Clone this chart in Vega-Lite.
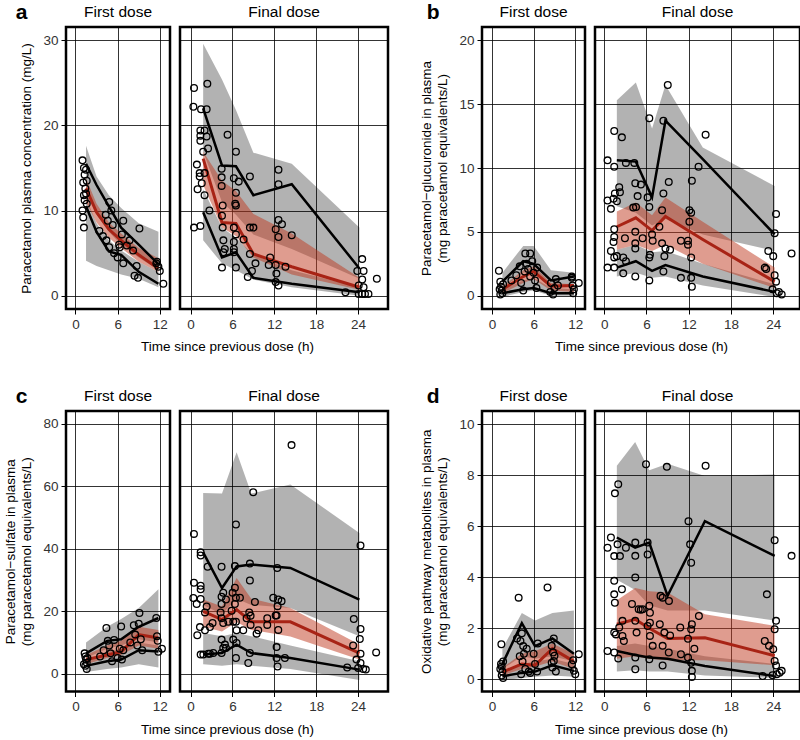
{
"$schema":"https://vega.github.io/schema/vega-lite/v6.json",
"padding":{"left":2,"top":2,"right":0,"bottom":0},
"config":{
 "font":"Liberation Sans",
 "view":{"stroke":"#000","strokeWidth":2.5},
 "axis":{"grid":true,"gridColor":"#000","gridWidth":0.8,"gridOpacity":1,"domain":false,"tickColor":"#000","tickSize":5,"tickWidth":1,"labelFontSize":13.5,"labelColor":"#333","labelPadding":3,"titleFontSize":13.5,"titleFontWeight":"normal","titleColor":"#000","titlePadding":9},
 "axisY":{"titleLineHeight":16},
 "title":{"fontSize":15.5,"fontWeight":"normal","offset":7,"color":"#000"}
},
"datasets":{
"bands":[
{"p":"a1","t":1.5,"ul":12.5,"uh":17.6,"ll":4.1,"lh":11.5,"ml":11.0,"mh":13.8,"a":15.5,"m":12.6,"b":10.5},
{"p":"a1","t":3,"ul":9.5,"uh":14.0,"ll":3.5,"lh":8.5,"ml":8.6,"mh":10.8,"a":13.0,"m":9.8,"b":7.5},
{"p":"a1","t":4.75,"ul":7.5,"uh":11.8,"ll":3.0,"lh":6.5,"ml":6.8,"mh":8.6,"a":10.5,"m":7.8,"b":5.2},
{"p":"a1","t":6.5,"ul":6.0,"uh":10.3,"ll":2.5,"lh":5.3,"ml":5.6,"mh":7.3,"a":8.0,"m":6.5,"b":4.8},
{"p":"a1","t":9,"ul":4.5,"uh":8.5,"ll":2.0,"lh":4.0,"ml":4.0,"mh":5.6,"a":6.0,"m":4.8,"b":2.8},
{"p":"a1","t":11.8,"ul":3.0,"uh":7.5,"ll":1.0,"lh":2.8,"ml":2.8,"mh":4.4,"a":3.7,"m":3.2,"b":1.4},
{"p":"a2","t":1.8,"ul":16.9,"uh":29.6,"ll":6.5,"lh":12.5,"ml":13.0,"mh":16.9,"a":22.0,"m":16.1,"b":9.8},
{"p":"a2","t":4.5,"ul":11.0,"uh":25.4,"ll":3.8,"lh":8.0,"ml":8.0,"mh":13.5,"a":15.3,"m":8.6,"b":4.5},
{"p":"a2","t":6.5,"ul":9.5,"uh":21.8,"ll":3.0,"lh":6.8,"ml":7.0,"mh":12.3,"a":15.2,"m":8.5,"b":5.1},
{"p":"a2","t":9,"ul":7.2,"uh":16.8,"ll":1.9,"lh":4.8,"ml":4.5,"mh":9.6,"a":11.8,"m":4.9,"b":2.1},
{"p":"a2","t":14.5,"ul":5.5,"uh":15.5,"ll":1.0,"lh":3.0,"ml":2.5,"mh":7.3,"a":13.1,"m":3.4,"b":1.4},
{"p":"a2","t":24.2,"ul":2.0,"uh":8.0,"ll":0.0,"lh":1.0,"ml":0.7,"mh":2.1,"a":3.2,"m":1.0,"b":0.4},
{"p":"b1","t":1.5,"ul":0.6,"uh":1.8,"ll":-0.1,"lh":0.5,"ml":0.2,"mh":0.7,"a":1.1,"m":0.5,"b":0.2},
{"p":"b1","t":4.5,"ul":1.8,"uh":3.9,"ll":0.3,"lh":1.2,"ml":1.0,"mh":2.0,"a":2.7,"m":1.5,"b":0.5},
{"p":"b1","t":6,"ul":2.0,"uh":3.9,"ll":0.4,"lh":1.4,"ml":1.3,"mh":2.3,"a":2.5,"m":1.9,"b":0.6},
{"p":"b1","t":8.5,"ul":0.9,"uh":2.0,"ll":0.0,"lh":0.6,"ml":0.4,"mh":1.0,"a":1.2,"m":0.75,"b":0.2},
{"p":"b1","t":11.8,"ul":0.8,"uh":1.8,"ll":0.0,"lh":0.5,"ml":0.3,"mh":0.9,"a":1.5,"m":0.8,"b":0.2},
{"p":"b2","t":1.8,"ul":7.0,"uh":15.3,"ll":1.5,"lh":3.6,"ml":3.6,"mh":6.6,"a":10.6,"m":5.4,"b":2.2},
{"p":"b2","t":4.5,"ul":6.5,"uh":16.7,"ll":1.8,"lh":4.0,"ml":4.0,"mh":7.3,"a":10.5,"m":6.1,"b":2.7},
{"p":"b2","t":6.8,"ul":5.5,"uh":13.1,"ll":1.4,"lh":3.4,"ml":3.5,"mh":6.3,"a":7.7,"m":5.1,"b":1.95},
{"p":"b2","t":8.7,"ul":6.0,"uh":16.5,"ll":1.5,"lh":3.5,"ml":4.0,"mh":7.7,"a":13.7,"m":6.2,"b":2.4},
{"p":"b2","t":14,"ul":4.8,"uh":11.6,"ll":0.8,"lh":2.5,"ml":2.5,"mh":5.8,"a":10.7,"m":4.4,"b":1.5},
{"p":"b2","t":24.2,"ul":3.5,"uh":8.6,"ll":-0.1,"lh":0.9,"ml":0.6,"mh":2.2,"a":4.8,"m":1.1,"b":0.3},
{"p":"c1","t":1.5,"ul":5,"uh":10,"ll":0.5,"lh":4,"ml":3,"mh":6,"a":6.5,"m":4.5,"b":2.5},
{"p":"c1","t":4.5,"ul":8,"uh":15,"ll":1.5,"lh":7,"ml":5,"mh":9,"a":10.5,"m":6.0,"b":4.0},
{"p":"c1","t":6.5,"ul":9,"uh":17.5,"ll":2,"lh":8,"ml":6,"mh":10.5,"a":11,"m":7.0,"b":4.5},
{"p":"c1","t":9,"ul":11,"uh":21,"ll":3,"lh":10,"ml":9,"mh":15,"a":15,"m":12.5,"b":7.5},
{"p":"c1","t":11.8,"ul":10,"uh":27,"ll":2,"lh":9,"ml":8,"mh":14,"a":17.8,"m":11.4,"b":7.1},
{"p":"c2","t":1.8,"ul":22,"uh":57.8,"ll":3,"lh":13,"ml":15,"mh":23.7,"a":38.8,"m":19.9,"b":6.1},
{"p":"c2","t":4.5,"ul":19,"uh":57.6,"ll":2.5,"lh":12,"ml":13.5,"mh":21.5,"a":27.4,"m":17.3,"b":6.6},
{"p":"c2","t":6.6,"ul":24,"uh":70.8,"ll":3,"lh":13,"ml":16.5,"mh":30.6,"a":34.3,"m":20.5,"b":9.3},
{"p":"c2","t":8.7,"ul":22,"uh":57.6,"ll":2.5,"lh":12,"ml":14,"mh":24,"a":34.9,"m":16.6,"b":6.6},
{"p":"c2","t":14.3,"ul":21,"uh":60.5,"ll":1.5,"lh":9,"ml":11.9,"mh":21.0,"a":33.8,"m":16.6,"b":5.0},
{"p":"c2","t":24.2,"ul":12,"uh":45,"ll":-2,"lh":4,"ml":4.5,"mh":9.3,"a":23.7,"m":6.6,"b":1.3},
{"p":"d1","t":1.5,"ul":0.4,"uh":1.2,"ll":-0.05,"lh":0.3,"ml":0.15,"mh":0.45,"a":0.6,"m":0.28,"b":0.12},
{"p":"d1","t":4.3,"ul":0.9,"uh":2.6,"ll":0.05,"lh":0.6,"ml":0.4,"mh":1.0,"a":2.2,"m":0.6,"b":0.25},
{"p":"d1","t":6.2,"ul":0.8,"uh":2.3,"ll":0.1,"lh":0.7,"ml":0.5,"mh":1.1,"a":1.3,"m":0.55,"b":0.3},
{"p":"d1","t":8.7,"ul":0.9,"uh":2.6,"ll":0.15,"lh":0.8,"ml":0.7,"mh":1.4,"a":1.6,"m":1.2,"b":0.55},
{"p":"d1","t":11.8,"ul":0.7,"uh":2.7,"ll":0.1,"lh":0.6,"ml":0.4,"mh":1.0,"a":1.0,"m":0.7,"b":0.33},
{"p":"d2","t":1.8,"ul":3.9,"uh":8.37,"ll":0.3,"lh":1.3,"ml":0.8,"mh":3.1,"a":5.56,"m":2.16,"b":1.11},
{"p":"d2","t":4.4,"ul":3.5,"uh":9.3,"ll":0.35,"lh":1.4,"ml":0.9,"mh":3.58,"a":5.16,"m":2.35,"b":0.95},
{"p":"d2","t":6.4,"ul":2.9,"uh":8.2,"ll":0.3,"lh":1.3,"ml":0.8,"mh":3.45,"a":5.36,"m":2.0,"b":0.85},
{"p":"d2","t":9.0,"ul":2.7,"uh":8.45,"ll":0.3,"lh":1.2,"ml":0.75,"mh":3.4,"a":3.27,"m":1.6,"b":0.8},
{"p":"d2","t":14.3,"ul":2.7,"uh":7.97,"ll":0.15,"lh":0.9,"ml":0.75,"mh":2.55,"a":6.2,"m":1.63,"b":0.52},
{"p":"d2","t":24.2,"ul":2.3,"uh":8.03,"ll":0.05,"lh":0.6,"ml":0.55,"mh":2.1,"a":4.84,"m":0.92,"b":0.13}
],
"obs":[
{"p":"a1","t":1.0,"v":15.9},{"p":"a1","t":1.2,"v":15.0},{"p":"a1","t":1.3,"v":14.2},{"p":"a1","t":1.1,"v":13.3},{"p":"a1","t":1.4,"v":12.6},{"p":"a1","t":1.2,"v":11.8},{"p":"a1","t":1.3,"v":11.2},{"p":"a1","t":1.0,"v":10.0},{"p":"a1","t":1.1,"v":9.2},{"p":"a1","t":1.2,"v":8.0},{"p":"a1","t":1.5,"v":14.8},{"p":"a1","t":1.6,"v":13.5},{"p":"a1","t":1.5,"v":12.0},{"p":"a1","t":1.6,"v":10.8},{"p":"a1","t":3.4,"v":7.6},{"p":"a1","t":3.9,"v":7.0},{"p":"a1","t":4.4,"v":6.5},{"p":"a1","t":4.8,"v":5.7},{"p":"a1","t":4.8,"v":11.0},{"p":"a1","t":5.1,"v":10.0},{"p":"a1","t":4.6,"v":8.8},{"p":"a1","t":4.3,"v":9.5},{"p":"a1","t":5.3,"v":8.3},{"p":"a1","t":6.3,"v":5.7},{"p":"a1","t":6.8,"v":8.8},{"p":"a1","t":6.6,"v":7.2},{"p":"a1","t":6.0,"v":4.5},{"p":"a1","t":6.8,"v":3.8},{"p":"a1","t":7.7,"v":6.5},{"p":"a1","t":8.2,"v":5.3},{"p":"a1","t":8.7,"v":3.5},{"p":"a1","t":9.1,"v":7.9},{"p":"a1","t":8.4,"v":2.35},{"p":"a1","t":8.9,"v":2.1},{"p":"a1","t":11.5,"v":3.8},{"p":"a1","t":11.8,"v":3.4},{"p":"a1","t":12.0,"v":2.9},{"p":"a1","t":12.5,"v":1.4},{"p":"a1","t":11.6,"v":4.0},{"p":"a1","t":6.2,"v":6.0},{"p":"a1","t":5.5,"v":5.0},{"p":"a1","t":7.3,"v":5.9},
{"p":"a2","t":0.49,"v":24.4},{"p":"a2","t":0.4,"v":22.2},{"p":"a2","t":2.4,"v":24.9},{"p":"a2","t":1.5,"v":21.9},{"p":"a2","t":2.3,"v":21.9},{"p":"a2","t":1.4,"v":19.4},{"p":"a2","t":2.0,"v":19.4},{"p":"a2","t":1.4,"v":18.8},{"p":"a2","t":1.4,"v":18.2},{"p":"a2","t":2.3,"v":18.7},{"p":"a2","t":2.5,"v":17.3},{"p":"a2","t":1.8,"v":16.9},{"p":"a2","t":0.9,"v":15.4},{"p":"a2","t":1.3,"v":14.4},{"p":"a2","t":1.3,"v":14.0},{"p":"a2","t":1.6,"v":13.2},{"p":"a2","t":2.0,"v":14.4},{"p":"a2","t":1.0,"v":12.5},{"p":"a2","t":2.0,"v":11.8},{"p":"a2","t":2.7,"v":10.0},{"p":"a2","t":0.49,"v":8.0},{"p":"a2","t":1.4,"v":8.2},{"p":"a2","t":5.3,"v":18.9},{"p":"a2","t":6.5,"v":16.9},{"p":"a2","t":4.45,"v":14.9},{"p":"a2","t":4.45,"v":13.9},{"p":"a2","t":4.45,"v":12.9},{"p":"a2","t":6.2,"v":13.8},{"p":"a2","t":6.9,"v":13.4},{"p":"a2","t":6.5,"v":12.1},{"p":"a2","t":6.4,"v":10.8},{"p":"a2","t":6.5,"v":10.6},{"p":"a2","t":8.5,"v":14.0},{"p":"a2","t":12.6,"v":14.8},{"p":"a2","t":12.6,"v":13.1},{"p":"a2","t":4.6,"v":10.6},{"p":"a2","t":4.5,"v":9.4},{"p":"a2","t":4.6,"v":8.0},{"p":"a2","t":4.7,"v":6.5},{"p":"a2","t":4.9,"v":5.5},{"p":"a2","t":4.7,"v":5.1},{"p":"a2","t":4.5,"v":3.3},{"p":"a2","t":6.2,"v":8.0},{"p":"a2","t":6.5,"v":7.2},{"p":"a2","t":6.2,"v":6.3},{"p":"a2","t":6.2,"v":5.5},{"p":"a2","t":6.2,"v":5.1},{"p":"a2","t":6.5,"v":3.3},{"p":"a2","t":8.5,"v":8.0},{"p":"a2","t":9.0,"v":8.0},{"p":"a2","t":7.6,"v":6.6},{"p":"a2","t":8.5,"v":4.9},{"p":"a2","t":8.8,"v":2.9},{"p":"a2","t":8.2,"v":2.2},{"p":"a2","t":9.3,"v":3.8},{"p":"a2","t":12.6,"v":8.9},{"p":"a2","t":13.1,"v":8.4},{"p":"a2","t":12.2,"v":7.8},{"p":"a2","t":12.6,"v":6.9},{"p":"a2","t":14.5,"v":7.1},{"p":"a2","t":11.4,"v":4.5},{"p":"a2","t":11.2,"v":3.6},{"p":"a2","t":12.2,"v":3.6},{"p":"a2","t":13.6,"v":3.4},{"p":"a2","t":12.3,"v":2.6},{"p":"a2","t":12.2,"v":1.6},{"p":"a2","t":12.6,"v":1.2},{"p":"a2","t":24.6,"v":4.3},{"p":"a2","t":23.9,"v":2.9},{"p":"a2","t":24.8,"v":2.9},{"p":"a2","t":24.6,"v":1.9},{"p":"a2","t":24.1,"v":1.2},{"p":"a2","t":24.8,"v":1.0},{"p":"a2","t":25.0,"v":0.2},{"p":"a2","t":24.1,"v":0.2},{"p":"a2","t":24.6,"v":0.2},{"p":"a2","t":25.5,"v":0.2},{"p":"a2","t":22.2,"v":0.4},{"p":"a2","t":26.7,"v":2.0},
{"p":"b1","t":1.0,"v":1.95},{"p":"b1","t":1.2,"v":1.1},{"p":"b1","t":1.3,"v":0.7},{"p":"b1","t":1.4,"v":0.4},{"p":"b1","t":1.5,"v":0.2},{"p":"b1","t":1.2,"v":0.1},{"p":"b1","t":1.6,"v":0.9},{"p":"b1","t":1.1,"v":0.5},{"p":"b1","t":2.8,"v":1.2},{"p":"b1","t":3.5,"v":1.6},{"p":"b1","t":4.0,"v":2.3},{"p":"b1","t":4.2,"v":1.0},{"p":"b1","t":4.5,"v":0.4},{"p":"b1","t":4.8,"v":3.3},{"p":"b1","t":5.5,"v":3.3},{"p":"b1","t":5.0,"v":2.5},{"p":"b1","t":5.2,"v":2.1},{"p":"b1","t":5.8,"v":2.7},{"p":"b1","t":6.0,"v":1.8},{"p":"b1","t":6.2,"v":1.2},{"p":"b1","t":6.4,"v":0.6},{"p":"b1","t":5.5,"v":1.5},{"p":"b1","t":4.7,"v":1.9},{"p":"b1","t":6.5,"v":2.2},{"p":"b1","t":8.4,"v":0.3},{"p":"b1","t":8.5,"v":1.0},{"p":"b1","t":8.8,"v":0.1},{"p":"b1","t":9.2,"v":1.3},{"p":"b1","t":9.0,"v":0.6},{"p":"b1","t":9.5,"v":0.8},{"p":"b1","t":11.5,"v":1.4},{"p":"b1","t":11.7,"v":0.2},{"p":"b1","t":11.8,"v":0.5},{"p":"b1","t":12.5,"v":1.0},{"p":"b1","t":11.6,"v":0.8},{"p":"b1","t":11.5,"v":1.5},
{"p":"b2","t":9.03,"v":16.5},{"p":"b2","t":6.41,"v":13.9},{"p":"b2","t":8.41,"v":13.7},{"p":"b2","t":1.43,"v":12.9},{"p":"b2","t":2.52,"v":12.4},{"p":"b2","t":14.4,"v":12.6},{"p":"b2","t":0.48,"v":10.6},{"p":"b2","t":1.43,"v":10.1},{"p":"b2","t":3.09,"v":10.4},{"p":"b2","t":4.28,"v":10.4},{"p":"b2","t":13.4,"v":10.1},{"p":"b2","t":9.17,"v":8.9},{"p":"b2","t":12.45,"v":9.0},{"p":"b2","t":4.42,"v":8.8},{"p":"b2","t":5.22,"v":8.7},{"p":"b2","t":2.14,"v":8.5},{"p":"b2","t":2.24,"v":8.1},{"p":"b2","t":1.52,"v":8.0},{"p":"b2","t":1.33,"v":7.6},{"p":"b2","t":1.81,"v":7.4},{"p":"b2","t":0.96,"v":6.8},{"p":"b2","t":0.48,"v":7.45},{"p":"b2","t":4.75,"v":7.8},{"p":"b2","t":4.52,"v":6.95},{"p":"b2","t":6.17,"v":7.7},{"p":"b2","t":6.41,"v":6.95},{"p":"b2","t":8.41,"v":8.0},{"p":"b2","t":8.22,"v":6.7},{"p":"b2","t":7.84,"v":5.4},{"p":"b2","t":4.13,"v":6.9},{"p":"b2","t":12.1,"v":6.7},{"p":"b2","t":12.35,"v":6.5},{"p":"b2","t":12.1,"v":5.8},{"p":"b2","t":1.43,"v":5.2},{"p":"b2","t":1.43,"v":4.6},{"p":"b2","t":1.33,"v":4.2},{"p":"b2","t":2.95,"v":4.5},{"p":"b2","t":4.42,"v":5.0},{"p":"b2","t":5.46,"v":4.5},{"p":"b2","t":4.42,"v":4.1},{"p":"b2","t":4.42,"v":3.7},{"p":"b2","t":0.96,"v":3.5},{"p":"b2","t":1.43,"v":3.0},{"p":"b2","t":1.81,"v":3.1},{"p":"b2","t":2.71,"v":3.0},{"p":"b2","t":3.09,"v":2.7},{"p":"b2","t":6.89,"v":4.3},{"p":"b2","t":6.8,"v":4.8},{"p":"b2","t":6.5,"v":3.2},{"p":"b2","t":6.41,"v":3.0},{"p":"b2","t":8.22,"v":4.1},{"p":"b2","t":8.7,"v":3.7},{"p":"b2","t":9.36,"v":3.6},{"p":"b2","t":8.55,"v":3.1},{"p":"b2","t":10.9,"v":4.3},{"p":"b2","t":11.9,"v":4.0},{"p":"b2","t":11.9,"v":4.3},{"p":"b2","t":12.35,"v":3.0},{"p":"b2","t":0.48,"v":2.2},{"p":"b2","t":1.43,"v":2.2},{"p":"b2","t":2.71,"v":1.75},{"p":"b2","t":4.42,"v":1.5},{"p":"b2","t":6.41,"v":1.2},{"p":"b2","t":8.41,"v":1.9},{"p":"b2","t":10.9,"v":1.4},{"p":"b2","t":12.35,"v":1.4},{"p":"b2","t":12.45,"v":0.7},{"p":"b2","t":22.8,"v":2.2},{"p":"b2","t":23.0,"v":2.1},{"p":"b2","t":23.3,"v":3.5},{"p":"b2","t":24.0,"v":3.1},{"p":"b2","t":24.4,"v":6.4},{"p":"b2","t":24.2,"v":4.9},{"p":"b2","t":24.2,"v":1.6},{"p":"b2","t":24.4,"v":1.1},{"p":"b2","t":23.9,"v":0.5},{"p":"b2","t":24.5,"v":0.2},{"p":"b2","t":25.2,"v":0.1},{"p":"b2","t":24.8,"v":0.3},{"p":"b2","t":26.6,"v":3.3},
{"p":"c1","t":1.3,"v":6.5},{"p":"c1","t":1.4,"v":5.5},{"p":"c1","t":1.5,"v":4.5},{"p":"c1","t":1.6,"v":3.5},{"p":"c1","t":1.4,"v":2.5},{"p":"c1","t":1.6,"v":1.5},{"p":"c1","t":1.2,"v":3.0},{"p":"c1","t":1.7,"v":5.0},{"p":"c1","t":3.5,"v":5.5},{"p":"c1","t":4.0,"v":7.5},{"p":"c1","t":4.4,"v":14.6},{"p":"c1","t":4.6,"v":10.5},{"p":"c1","t":4.8,"v":9.0},{"p":"c1","t":5.0,"v":6.5},{"p":"c1","t":5.2,"v":4.0},{"p":"c1","t":5.5,"v":10.8},{"p":"c1","t":6.0,"v":5.0},{"p":"c1","t":6.3,"v":8.0},{"p":"c1","t":6.5,"v":15.1},{"p":"c1","t":6.8,"v":7.5},{"p":"c1","t":6.6,"v":4.5},{"p":"c1","t":7.8,"v":10.0},{"p":"c1","t":8.5,"v":12.5},{"p":"c1","t":8.8,"v":9.0},{"p":"c1","t":9.1,"v":19.4},{"p":"c1","t":9.3,"v":11.0},{"p":"c1","t":9.5,"v":7.5},{"p":"c1","t":9.0,"v":16.0},{"p":"c1","t":11.5,"v":17.8},{"p":"c1","t":11.6,"v":12.0},{"p":"c1","t":11.8,"v":7.0},{"p":"c1","t":12.3,"v":8.0},{"p":"c1","t":11.7,"v":10.5},{"p":"c1","t":8.3,"v":15.5},
{"p":"c2","t":0.48,"v":44.7},{"p":"c2","t":14.47,"v":73.1},{"p":"c2","t":8.98,"v":58.0},{"p":"c2","t":6.5,"v":47.7},{"p":"c2","t":24.36,"v":41.0},{"p":"c2","t":1.44,"v":38.8},{"p":"c2","t":1.44,"v":37.8},{"p":"c2","t":2.44,"v":34.2},{"p":"c2","t":4.44,"v":34.2},{"p":"c2","t":6.35,"v":34.4},{"p":"c2","t":8.5,"v":35.2},{"p":"c2","t":12.42,"v":33.8},{"p":"c2","t":8.5,"v":29.8},{"p":"c2","t":0.48,"v":29.1},{"p":"c2","t":1.44,"v":28.1},{"p":"c2","t":0.39,"v":24.2},{"p":"c2","t":1.44,"v":27.0},{"p":"c2","t":0.87,"v":22.3},{"p":"c2","t":1.44,"v":23.9},{"p":"c2","t":2.3,"v":21.5},{"p":"c2","t":2.06,"v":19.6},{"p":"c2","t":4.44,"v":24.6},{"p":"c2","t":4.44,"v":22.3},{"p":"c2","t":4.3,"v":19.6},{"p":"c2","t":4.68,"v":25.9},{"p":"c2","t":5.07,"v":23.7},{"p":"c2","t":6.02,"v":25.9},{"p":"c2","t":6.35,"v":27.5},{"p":"c2","t":6.5,"v":24.3},{"p":"c2","t":7.07,"v":24.3},{"p":"c2","t":6.35,"v":22.3},{"p":"c2","t":5.88,"v":20.1},{"p":"c2","t":9.22,"v":22.9},{"p":"c2","t":8.41,"v":19.6},{"p":"c2","t":8.6,"v":18.5},{"p":"c2","t":11.85,"v":24.3},{"p":"c2","t":12.57,"v":23.7},{"p":"c2","t":13.04,"v":23.2},{"p":"c2","t":12.47,"v":21.6},{"p":"c2","t":12.33,"v":18.6},{"p":"c2","t":1.34,"v":14.9},{"p":"c2","t":0.96,"v":12.3},{"p":"c2","t":2.06,"v":13.9},{"p":"c2","t":2.77,"v":14.9},{"p":"c2","t":3.15,"v":16.2},{"p":"c2","t":4.44,"v":17.7},{"p":"c2","t":4.68,"v":16.2},{"p":"c2","t":5.4,"v":16.6},{"p":"c2","t":6.12,"v":16.6},{"p":"c2","t":6.5,"v":16.6},{"p":"c2","t":6.59,"v":13.9},{"p":"c2","t":8.03,"v":17.7},{"p":"c2","t":8.6,"v":15.6},{"p":"c2","t":7.55,"v":13.9},{"p":"c2","t":9.7,"v":13.9},{"p":"c2","t":9.46,"v":12.8},{"p":"c2","t":10.99,"v":17.7},{"p":"c2","t":10.99,"v":15.6},{"p":"c2","t":12.57,"v":14.0},{"p":"c2","t":12.19,"v":18.6},{"p":"c2","t":4.44,"v":10.9},{"p":"c2","t":4.92,"v":9.3},{"p":"c2","t":5.07,"v":8.2},{"p":"c2","t":6.12,"v":10.9},{"p":"c2","t":6.59,"v":9.8},{"p":"c2","t":1.44,"v":6.1},{"p":"c2","t":1.82,"v":6.1},{"p":"c2","t":2.53,"v":6.4},{"p":"c2","t":2.77,"v":6.4},{"p":"c2","t":3.25,"v":6.6},{"p":"c2","t":4.44,"v":6.6},{"p":"c2","t":4.68,"v":8.2},{"p":"c2","t":6.5,"v":5.0},{"p":"c2","t":8.5,"v":6.6},{"p":"c2","t":8.27,"v":3.4},{"p":"c2","t":12.33,"v":8.5},{"p":"c2","t":12.33,"v":5.0},{"p":"c2","t":12.47,"v":2.3},{"p":"c2","t":13.52,"v":5.0},{"p":"c2","t":23.4,"v":17.5},{"p":"c2","t":24.36,"v":14.3},{"p":"c2","t":24.26,"v":11.1},{"p":"c2","t":23.3,"v":9.0},{"p":"c2","t":24.36,"v":6.4},{"p":"c2","t":23.78,"v":4.5},{"p":"c2","t":24.36,"v":3.4},{"p":"c2","t":24.74,"v":1.5},{"p":"c2","t":25.12,"v":1.3},{"p":"c2","t":24.02,"v":1.8},{"p":"c2","t":26.6,"v":6.8},{"p":"c2","t":22.45,"v":2.0},
{"p":"d1","t":1.35,"v":1.37},{"p":"d1","t":1.3,"v":0.6},{"p":"d1","t":1.4,"v":0.5},{"p":"d1","t":1.5,"v":0.3},{"p":"d1","t":1.4,"v":0.15},{"p":"d1","t":1.6,"v":0.05},{"p":"d1","t":1.2,"v":0.4},{"p":"d1","t":1.6,"v":0.7},{"p":"d1","t":3.84,"v":3.2},{"p":"d1","t":4.3,"v":1.8},{"p":"d1","t":4.1,"v":1.5},{"p":"d1","t":4.5,"v":1.3},{"p":"d1","t":5.0,"v":1.2},{"p":"d1","t":4.6,"v":1.0},{"p":"d1","t":4.0,"v":0.9},{"p":"d1","t":4.4,"v":0.7},{"p":"d1","t":4.8,"v":0.4},{"p":"d1","t":5.3,"v":0.3},{"p":"d1","t":4.2,"v":0.2},{"p":"d1","t":5.5,"v":0.25},{"p":"d1","t":3.6,"v":1.6},{"p":"d1","t":6.0,"v":1.0},{"p":"d1","t":6.2,"v":0.6},{"p":"d1","t":6.5,"v":0.3},{"p":"d1","t":6.6,"v":1.4},{"p":"d1","t":8.0,"v":3.6},{"p":"d1","t":8.9,"v":1.6},{"p":"d1","t":8.6,"v":1.31},{"p":"d1","t":8.8,"v":1.05},{"p":"d1","t":9.0,"v":0.92},{"p":"d1","t":8.6,"v":0.65},{"p":"d1","t":8.9,"v":0.72},{"p":"d1","t":8.7,"v":0.46},{"p":"d1","t":9.2,"v":0.3},{"p":"d1","t":11.8,"v":0.33},{"p":"d1","t":11.5,"v":0.59},{"p":"d1","t":12.5,"v":0.98},{"p":"d1","t":11.7,"v":0.75},{"p":"d1","t":12.0,"v":0.2},
{"p":"d2","t":5.94,"v":8.43},{"p":"d2","t":8.9,"v":8.33},{"p":"d2","t":14.4,"v":8.37},{"p":"d2","t":2.0,"v":7.65},{"p":"d2","t":1.53,"v":7.29},{"p":"d2","t":11.97,"v":6.2},{"p":"d2","t":0.96,"v":5.56},{"p":"d2","t":0.48,"v":5.16},{"p":"d2","t":1.9,"v":5.29},{"p":"d2","t":3.09,"v":5.16},{"p":"d2","t":4.42,"v":5.36},{"p":"d2","t":4.42,"v":4.84},{"p":"d2","t":6.17,"v":5.36},{"p":"d2","t":6.17,"v":4.89},{"p":"d2","t":1.43,"v":4.83},{"p":"d2","t":2.24,"v":4.83},{"p":"d2","t":12.2,"v":5.29},{"p":"d2","t":12.35,"v":4.57},{"p":"d2","t":24.2,"v":5.45},{"p":"d2","t":26.6,"v":4.84},{"p":"d2","t":4.42,"v":3.99},{"p":"d2","t":1.43,"v":3.86},{"p":"d2","t":2.52,"v":3.53},{"p":"d2","t":1.43,"v":3.33},{"p":"d2","t":1.52,"v":3.0},{"p":"d2","t":8.0,"v":3.27},{"p":"d2","t":8.3,"v":3.2},{"p":"d2","t":9.2,"v":3.07},{"p":"d2","t":3.95,"v":2.95},{"p":"d2","t":4.9,"v":2.75},{"p":"d2","t":5.2,"v":2.73},{"p":"d2","t":5.46,"v":2.75},{"p":"d2","t":6.41,"v":2.88},{"p":"d2","t":6.5,"v":2.61},{"p":"d2","t":6.5,"v":2.22},{"p":"d2","t":7.9,"v":2.16},{"p":"d2","t":6.17,"v":2.09},{"p":"d2","t":4.42,"v":2.29},{"p":"d2","t":4.6,"v":1.83},{"p":"d2","t":2.6,"v":2.29},{"p":"d2","t":2.14,"v":2.03},{"p":"d2","t":1.67,"v":1.76},{"p":"d2","t":1.43,"v":1.83},{"p":"d2","t":2.6,"v":1.7},{"p":"d2","t":2.8,"v":1.5},{"p":"d2","t":10.8,"v":2.03},{"p":"d2","t":12.45,"v":2.16},{"p":"d2","t":12.35,"v":1.96},{"p":"d2","t":11.9,"v":1.59},{"p":"d2","t":13.45,"v":2.48},{"p":"d2","t":8.55,"v":1.83},{"p":"d2","t":9.36,"v":1.72},{"p":"d2","t":8.3,"v":1.31},{"p":"d2","t":9.17,"v":1.05},{"p":"d2","t":6.89,"v":1.31},{"p":"d2","t":6.5,"v":1.7},{"p":"d2","t":12.8,"v":1.2},{"p":"d2","t":10.9,"v":0.98},{"p":"d2","t":11.9,"v":0.85},{"p":"d2","t":12.35,"v":0.65},{"p":"d2","t":12.45,"v":0.33},{"p":"d2","t":12.45,"v":0.09},{"p":"d2","t":0.48,"v":1.11},{"p":"d2","t":1.43,"v":1.05},{"p":"d2","t":2.0,"v":0.81},{"p":"d2","t":4.42,"v":0.85},{"p":"d2","t":4.42,"v":0.39},{"p":"d2","t":6.41,"v":0.78},{"p":"d2","t":8.3,"v":0.54},{"p":"d2","t":23.1,"v":3.33},{"p":"d2","t":22.8,"v":1.5},{"p":"d2","t":23.4,"v":1.31},{"p":"d2","t":24.0,"v":1.18},{"p":"d2","t":24.4,"v":2.29},{"p":"d2","t":24.2,"v":1.96},{"p":"d2","t":24.2,"v":0.72},{"p":"d2","t":24.4,"v":0.54},{"p":"d2","t":24.5,"v":0.2},{"p":"d2","t":23.9,"v":0.16},{"p":"d2","t":24.9,"v":0.26},{"p":"d2","t":25.2,"v":0.33},{"p":"d2","t":22.5,"v":0.13}
]
},
"vconcat":[
{"hconcat":[
 {"title":{"text":"a","anchor":"start","fontSize":21,"fontWeight":"bold","dy":27,"dx":13},"bounds":"flush","spacing":10,"hconcat":[
  {"width":104,"height":282,"title":"First dose","data":{"name":"bands"},"transform":[{"filter":"datum.p=='a1'"}],
   "encoding":{"x":{"field":"t","type":"quantitative","scale":{"domain":[-1.35,13.45],"nice":false,"zero":false},"axis":{"values":[0,6,12],"title":null}}},
   "layer":[
    {"mark":{"type":"area","color":"#000","opacity":0.3},"encoding":{"y":{"field":"ul","type":"quantitative","scale":{"domain":[-1.56,31.56],"nice":false,"zero":false},"axis":{"values":[0,10,20,30],"title":[" ","Paracetamol plasma concentration (mg/L)"]}},"y2":{"field":"uh"}}},
    {"mark":{"type":"area","color":"#000","opacity":0.3},"encoding":{"y":{"field":"ll","type":"quantitative"},"y2":{"field":"lh"}}},
    {"mark":{"type":"area","color":"#c0391f","opacity":0.5},"encoding":{"y":{"field":"ml","type":"quantitative"},"y2":{"field":"mh"}}},
    {"mark":{"type":"line","color":"#000","strokeWidth":2.5},"encoding":{"y":{"field":"a","type":"quantitative"}}},
    {"mark":{"type":"line","color":"#000","strokeWidth":2.5},"encoding":{"y":{"field":"b","type":"quantitative"}}},
    {"mark":{"type":"line","color":"#a82315","strokeWidth":3},"encoding":{"y":{"field":"m","type":"quantitative"}}},
    {"data":{"name":"obs"},"transform":[{"filter":"datum.p=='a1'"}],"mark":{"type":"point","shape":"circle","filled":false,"color":"#000","size":45,"strokeWidth":1.3,"opacity":1},"encoding":{"y":{"field":"v","type":"quantitative"}}}
   ]},
  {"width":208,"height":282,"title":"Final dose","data":{"name":"bands"},"transform":[{"filter":"datum.p=='a2'"}],
   "encoding":{"x":{"field":"t","type":"quantitative","scale":{"domain":[-1.52,28.3],"nice":false,"zero":false},"axis":{"values":[0,6,12,18,24],"title":"Time since previous dose (h)","titleX":47}}},
   "layer":[
    {"mark":{"type":"area","color":"#000","opacity":0.3},"encoding":{"y":{"field":"ul","type":"quantitative","scale":{"domain":[-1.56,31.56],"nice":false,"zero":false},"axis":{"values":[0,10,20,30],"title":null,"labels":false,"ticks":false}},"y2":{"field":"uh"}}},
    {"mark":{"type":"area","color":"#000","opacity":0.3},"encoding":{"y":{"field":"ll","type":"quantitative"},"y2":{"field":"lh"}}},
    {"mark":{"type":"area","color":"#c0391f","opacity":0.5},"encoding":{"y":{"field":"ml","type":"quantitative"},"y2":{"field":"mh"}}},
    {"mark":{"type":"line","color":"#000","strokeWidth":2.5},"encoding":{"y":{"field":"a","type":"quantitative"}}},
    {"mark":{"type":"line","color":"#000","strokeWidth":2.5},"encoding":{"y":{"field":"b","type":"quantitative"}}},
    {"mark":{"type":"line","color":"#a82315","strokeWidth":3},"encoding":{"y":{"field":"m","type":"quantitative"}}},
    {"data":{"name":"obs"},"transform":[{"filter":"datum.p=='a2'"}],"mark":{"type":"point","shape":"circle","filled":false,"color":"#000","size":45,"strokeWidth":1.3,"opacity":1},"encoding":{"y":{"field":"v","type":"quantitative"}}}
   ]}
 ]},
 {"title":{"text":"b","anchor":"start","fontSize":21,"fontWeight":"bold","dy":27,"dx":8},"bounds":"flush","spacing":10,"hconcat":[
  {"width":103,"height":282,"title":"First dose","data":{"name":"bands"},"transform":[{"filter":"datum.p=='b1'"}],
   "encoding":{"x":{"field":"t","type":"quantitative","scale":{"domain":[-1.44,13.4],"nice":false,"zero":false},"axis":{"values":[0,6,12],"title":null}}},
   "layer":[
    {"mark":{"type":"area","color":"#000","opacity":0.3},"encoding":{"y":{"field":"ul","type":"quantitative","scale":{"domain":[-1.04,21.04],"nice":false,"zero":false},"axis":{"values":[0,5,10,15,20],"title":["Paracetamol−glucuronide in plasma","(mg paracetamol equivalents/L)"]}},"y2":{"field":"uh"}}},
    {"mark":{"type":"area","color":"#000","opacity":0.3},"encoding":{"y":{"field":"ll","type":"quantitative"},"y2":{"field":"lh"}}},
    {"mark":{"type":"area","color":"#c0391f","opacity":0.5},"encoding":{"y":{"field":"ml","type":"quantitative"},"y2":{"field":"mh"}}},
    {"mark":{"type":"line","color":"#000","strokeWidth":2.5},"encoding":{"y":{"field":"a","type":"quantitative"}}},
    {"mark":{"type":"line","color":"#000","strokeWidth":2.5},"encoding":{"y":{"field":"b","type":"quantitative"}}},
    {"mark":{"type":"line","color":"#a82315","strokeWidth":3},"encoding":{"y":{"field":"m","type":"quantitative"}}},
    {"data":{"name":"obs"},"transform":[{"filter":"datum.p=='b1'"}],"mark":{"type":"point","shape":"circle","filled":false,"color":"#000","size":45,"strokeWidth":1.3,"opacity":1},"encoding":{"y":{"field":"v","type":"quantitative"}}}
   ]},
  {"width":205,"height":282,"title":"Final dose","data":{"name":"bands"},"transform":[{"filter":"datum.p=='b2'"}],
   "encoding":{"x":{"field":"t","type":"quantitative","scale":{"domain":[-1.3,27.8],"nice":false,"zero":false},"axis":{"values":[0,6,12,18,24],"title":"Time since previous dose (h)","titleX":46}}},
   "layer":[
    {"mark":{"type":"area","color":"#000","opacity":0.3},"encoding":{"y":{"field":"ul","type":"quantitative","scale":{"domain":[-1.04,21.04],"nice":false,"zero":false},"axis":{"values":[0,5,10,15,20],"title":null,"labels":false,"ticks":false}},"y2":{"field":"uh"}}},
    {"mark":{"type":"area","color":"#000","opacity":0.3},"encoding":{"y":{"field":"ll","type":"quantitative"},"y2":{"field":"lh"}}},
    {"mark":{"type":"area","color":"#c0391f","opacity":0.5},"encoding":{"y":{"field":"ml","type":"quantitative"},"y2":{"field":"mh"}}},
    {"mark":{"type":"line","color":"#000","strokeWidth":2.5},"encoding":{"y":{"field":"a","type":"quantitative"}}},
    {"mark":{"type":"line","color":"#000","strokeWidth":2.5},"encoding":{"y":{"field":"b","type":"quantitative"}}},
    {"mark":{"type":"line","color":"#a82315","strokeWidth":3},"encoding":{"y":{"field":"m","type":"quantitative"}}},
    {"data":{"name":"obs"},"transform":[{"filter":"datum.p=='b2'"}],"mark":{"type":"point","shape":"circle","filled":false,"color":"#000","size":45,"strokeWidth":1.3,"opacity":1},"encoding":{"y":{"field":"v","type":"quantitative"}}}
   ]}
 ]}
],"spacing":28},
{"hconcat":[
 {"title":{"text":"c","anchor":"start","fontSize":21,"fontWeight":"bold","dy":27,"dx":13},"bounds":"flush","spacing":10,"hconcat":[
  {"width":104,"height":280.5,"title":"First dose","data":{"name":"bands"},"transform":[{"filter":"datum.p=='c1'"}],
   "encoding":{"x":{"field":"t","type":"quantitative","scale":{"domain":[-1.35,13.45],"nice":false,"zero":false},"axis":{"values":[0,6,12],"title":null}}},
   "layer":[
    {"mark":{"type":"area","color":"#000","opacity":0.3},"encoding":{"y":{"field":"ul","type":"quantitative","scale":{"domain":[-5.7,84],"nice":false,"zero":false},"axis":{"values":[0,20,40,60,80],"title":["Paracetamol−sulfate in plasma","(mg paracetamol equivalents/L)"]}},"y2":{"field":"uh"}}},
    {"mark":{"type":"area","color":"#000","opacity":0.3},"encoding":{"y":{"field":"ll","type":"quantitative"},"y2":{"field":"lh"}}},
    {"mark":{"type":"area","color":"#c0391f","opacity":0.5},"encoding":{"y":{"field":"ml","type":"quantitative"},"y2":{"field":"mh"}}},
    {"mark":{"type":"line","color":"#000","strokeWidth":2.5},"encoding":{"y":{"field":"a","type":"quantitative"}}},
    {"mark":{"type":"line","color":"#000","strokeWidth":2.5},"encoding":{"y":{"field":"b","type":"quantitative"}}},
    {"mark":{"type":"line","color":"#a82315","strokeWidth":3},"encoding":{"y":{"field":"m","type":"quantitative"}}},
    {"data":{"name":"obs"},"transform":[{"filter":"datum.p=='c1'"}],"mark":{"type":"point","shape":"circle","filled":false,"color":"#000","size":45,"strokeWidth":1.3,"opacity":1},"encoding":{"y":{"field":"v","type":"quantitative"}}}
   ]},
  {"width":208,"height":280.5,"title":"Final dose","data":{"name":"bands"},"transform":[{"filter":"datum.p=='c2'"}],
   "encoding":{"x":{"field":"t","type":"quantitative","scale":{"domain":[-1.52,28.3],"nice":false,"zero":false},"axis":{"values":[0,6,12,18,24],"title":"Time since previous dose (h)","titleX":47}}},
   "layer":[
    {"mark":{"type":"area","color":"#000","opacity":0.3},"encoding":{"y":{"field":"ul","type":"quantitative","scale":{"domain":[-5.7,84],"nice":false,"zero":false},"axis":{"values":[0,20,40,60,80],"title":null,"labels":false,"ticks":false}},"y2":{"field":"uh"}}},
    {"mark":{"type":"area","color":"#000","opacity":0.3},"encoding":{"y":{"field":"ll","type":"quantitative"},"y2":{"field":"lh"}}},
    {"mark":{"type":"area","color":"#c0391f","opacity":0.5},"encoding":{"y":{"field":"ml","type":"quantitative"},"y2":{"field":"mh"}}},
    {"mark":{"type":"line","color":"#000","strokeWidth":2.5},"encoding":{"y":{"field":"a","type":"quantitative"}}},
    {"mark":{"type":"line","color":"#000","strokeWidth":2.5},"encoding":{"y":{"field":"b","type":"quantitative"}}},
    {"mark":{"type":"line","color":"#a82315","strokeWidth":3},"encoding":{"y":{"field":"m","type":"quantitative"}}},
    {"data":{"name":"obs"},"transform":[{"filter":"datum.p=='c2'"}],"mark":{"type":"point","shape":"circle","filled":false,"color":"#000","size":45,"strokeWidth":1.3,"opacity":1},"encoding":{"y":{"field":"v","type":"quantitative"}}}
   ]}
 ]},
 {"title":{"text":"d","anchor":"start","fontSize":21,"fontWeight":"bold","dy":27,"dx":8},"bounds":"flush","spacing":10,"hconcat":[
  {"width":103,"height":280.5,"title":"First dose","data":{"name":"bands"},"transform":[{"filter":"datum.p=='d1'"}],
   "encoding":{"x":{"field":"t","type":"quantitative","scale":{"domain":[-1.44,13.4],"nice":false,"zero":false},"axis":{"values":[0,6,12],"title":null}}},
   "layer":[
    {"mark":{"type":"area","color":"#000","opacity":0.3},"encoding":{"y":{"field":"ul","type":"quantitative","scale":{"domain":[-0.48,10.52],"nice":false,"zero":false},"axis":{"values":[0,2,4,6,8,10],"title":["Oxidative pathway metabolites in plasma","(mg paracetamol equivalents/L)"]}},"y2":{"field":"uh"}}},
    {"mark":{"type":"area","color":"#000","opacity":0.3},"encoding":{"y":{"field":"ll","type":"quantitative"},"y2":{"field":"lh"}}},
    {"mark":{"type":"area","color":"#c0391f","opacity":0.5},"encoding":{"y":{"field":"ml","type":"quantitative"},"y2":{"field":"mh"}}},
    {"mark":{"type":"line","color":"#000","strokeWidth":2.5},"encoding":{"y":{"field":"a","type":"quantitative"}}},
    {"mark":{"type":"line","color":"#000","strokeWidth":2.5},"encoding":{"y":{"field":"b","type":"quantitative"}}},
    {"mark":{"type":"line","color":"#a82315","strokeWidth":3},"encoding":{"y":{"field":"m","type":"quantitative"}}},
    {"data":{"name":"obs"},"transform":[{"filter":"datum.p=='d1'"}],"mark":{"type":"point","shape":"circle","filled":false,"color":"#000","size":45,"strokeWidth":1.3,"opacity":1},"encoding":{"y":{"field":"v","type":"quantitative"}}}
   ]},
  {"width":205,"height":280.5,"title":"Final dose","data":{"name":"bands"},"transform":[{"filter":"datum.p=='d2'"}],
   "encoding":{"x":{"field":"t","type":"quantitative","scale":{"domain":[-1.3,27.8],"nice":false,"zero":false},"axis":{"values":[0,6,12,18,24],"title":"Time since previous dose (h)","titleX":46}}},
   "layer":[
    {"mark":{"type":"area","color":"#000","opacity":0.3},"encoding":{"y":{"field":"ul","type":"quantitative","scale":{"domain":[-0.48,10.52],"nice":false,"zero":false},"axis":{"values":[0,2,4,6,8,10],"title":null,"labels":false,"ticks":false}},"y2":{"field":"uh"}}},
    {"mark":{"type":"area","color":"#000","opacity":0.3},"encoding":{"y":{"field":"ll","type":"quantitative"},"y2":{"field":"lh"}}},
    {"mark":{"type":"area","color":"#c0391f","opacity":0.5},"encoding":{"y":{"field":"ml","type":"quantitative"},"y2":{"field":"mh"}}},
    {"mark":{"type":"line","color":"#000","strokeWidth":2.5},"encoding":{"y":{"field":"a","type":"quantitative"}}},
    {"mark":{"type":"line","color":"#000","strokeWidth":2.5},"encoding":{"y":{"field":"b","type":"quantitative"}}},
    {"mark":{"type":"line","color":"#a82315","strokeWidth":3},"encoding":{"y":{"field":"m","type":"quantitative"}}},
    {"data":{"name":"obs"},"transform":[{"filter":"datum.p=='d2'"}],"mark":{"type":"point","shape":"circle","filled":false,"color":"#000","size":45,"strokeWidth":1.3,"opacity":1},"encoding":{"y":{"field":"v","type":"quantitative"}}}
   ]}
 ]}
],"spacing":28}
],
"spacing":31
}
